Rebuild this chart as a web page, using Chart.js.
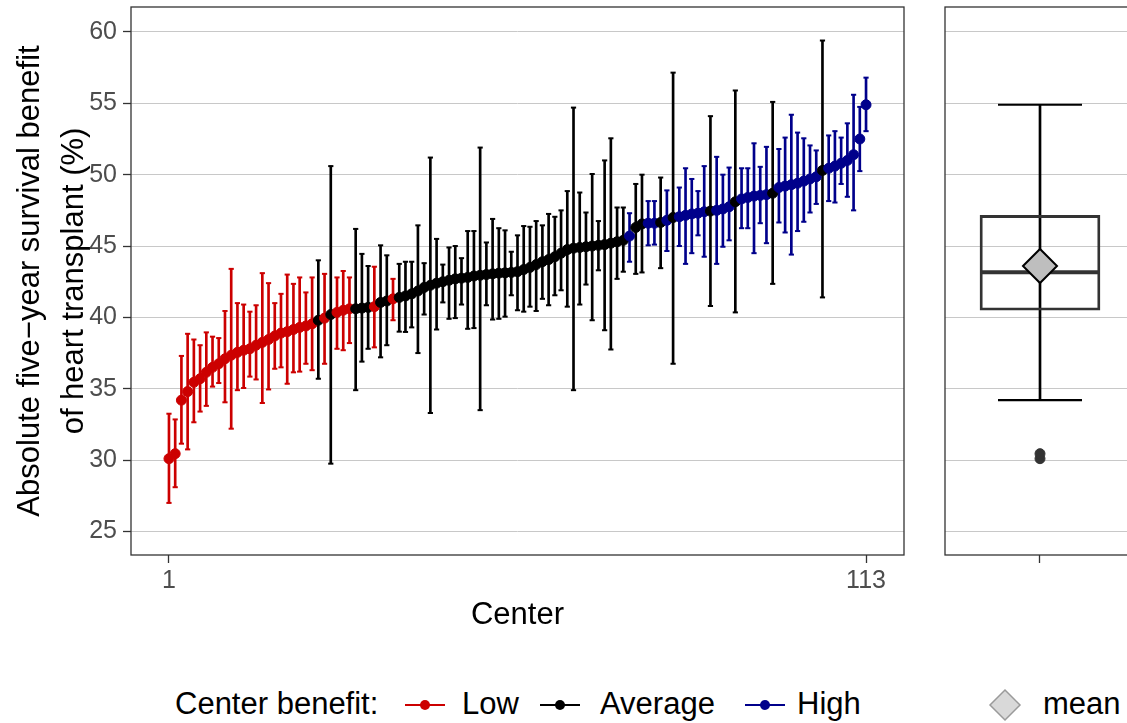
<!DOCTYPE html>
<html lang="en">
<head>
<meta charset="UTF-8">
<title>Center benefit</title>
<script src="https://cdn.jsdelivr.net/npm/chart.js"></script>
<style>
  html, body { margin: 0; padding: 0; background: #fff; overflow: hidden; width: 1127px; height: 723px; }
  body { position: relative; font-family: "Liberation Sans", Arial, sans-serif; }
  #main { position: absolute; left: 0; top: 0; }
  #side { position: absolute; left: 930px; top: 0; }
  .lg { position: absolute; top: 686px; font-size: 31px; line-height: 36px; color: #000; white-space: nowrap; }
  .key { position: absolute; top: 704px; width: 40px; height: 2px; }
  .key i { position: absolute; left: 15px; top: -4px; width: 10px; height: 10px; border-radius: 50%; background: inherit; }
</style>
</head>
<body>
<canvas id="main" width="910" height="640"></canvas>
<canvas id="side" width="300" height="640"></canvas>

<!-- legend -->
<div class="lg" style="left:175px">Center benefit:</div>
<div class="key" style="left:405px;background:#CC0000"><i></i></div>
<div class="lg" style="left:462px">Low</div>
<div class="key" style="left:540px;background:#000"><i></i></div>
<div class="lg" style="left:600px">Average</div>
<div class="key" style="left:745px;background:#00008B"><i></i></div>
<div class="lg" style="left:797px">High</div>
<svg style="position:absolute;left:988px;top:688px" width="34" height="34">
  <polygon points="17,2 32,17 17,32 2,17" fill="#D9D9D9" stroke="#9A9A9A" stroke-width="1.5"/>
</svg>
<div class="lg" style="left:1043px">mean</div>

<script>
// point estimate and 95% interval for each center (sorted)
var estimate = [
  30.1, 30.45, 34.2, 34.8, 35.45, 35.7, 36.15, 36.5, 36.75, 37.1,
  37.35, 37.55, 37.7, 37.8, 38.05, 38.25, 38.45, 38.7, 38.9, 39.0,
  39.15, 39.3, 39.4, 39.55, 39.8, 39.95, 40.2, 40.35, 40.5, 40.6,
  40.6, 40.65, 40.7, 40.75, 41.05, 41.15, 41.3, 41.4, 41.5, 41.65,
  41.85, 42.1, 42.25, 42.4, 42.5, 42.6, 42.7, 42.75, 42.8, 42.9,
  42.95, 43.0, 43.05, 43.1, 43.12, 43.15, 43.2, 43.35, 43.5, 43.7,
  43.9, 44.05, 44.25, 44.5, 44.75, 44.85, 44.9, 44.95, 45.0, 45.05,
  45.1, 45.2, 45.3, 45.4, 45.7, 46.3, 46.55, 46.6, 46.6, 46.65,
  46.8, 47.0, 47.05, 47.15, 47.25, 47.3, 47.4, 47.45, 47.5, 47.6,
  47.75, 48.1, 48.3, 48.4, 48.5, 48.55, 48.6, 48.7, 49.1, 49.2,
  49.3, 49.4, 49.55, 49.7, 49.85, 50.3, 50.45, 50.6, 50.8, 51.0,
  51.4, 52.5, 54.9
];
var lower = [
  27.0, 28.1, 31.15, 30.75, 32.65, 33.4, 33.8, 35.15, 35.4, 34.05,
  32.2, 34.9, 35.05, 35.85, 35.65, 34.0, 34.95, 36.4, 36.5, 35.35,
  36.15, 36.2, 36.75, 36.3, 35.7, 36.75, 29.75, 37.8, 37.7, 38.2,
  34.9, 36.9, 37.8, 37.9, 37.2, 38.05, 39.8, 39.0, 38.98, 39.3,
  37.5, 40.2, 33.3, 39.15, 41.05, 39.9, 39.95, 40.9, 39.2, 39.25,
  33.5, 40.85, 39.85, 39.9, 40.05, 41.55, 40.5, 40.4, 40.75, 40.45,
  41.3, 40.85, 41.55, 41.9, 40.75, 34.9, 40.9, 42.3, 39.8, 43.3,
  39.1, 37.75, 42.7, 43.2, 43.9, 43.05, 43.15, 45.05, 45.1, 43.45,
  44.65, 36.75, 45.0, 43.75, 44.5, 45.75, 44.25, 40.8, 43.75, 44.95,
  45.4, 40.35, 46.25, 46.25, 44.5, 46.6, 45.2, 42.35, 46.65, 45.95,
  44.4, 46.05, 46.7, 47.35, 47.95, 41.4, 48.15, 48.05, 49.35, 48.45,
  47.5, 50.25, 53.05
];
var upper = [
  33.25, 32.85, 37.3, 38.85, 38.45, 38.05, 38.95, 38.65, 38.55, 40.45,
  43.4, 41.0, 40.9, 40.4, 40.85, 43.1, 42.4, 41.0, 41.65, 43.0,
  42.35, 42.8, 41.75, 42.8, 44.0, 43.05, 50.6, 42.8, 43.25, 42.8,
  46.2, 44.45, 43.6, 43.55, 45.05, 44.35, 42.7, 43.75, 43.9, 43.9,
  46.45, 43.8, 51.2, 45.5, 43.7, 44.9, 45.0, 44.15, 46.05, 46.05,
  51.9, 45.25, 46.9, 46.25, 46.1, 44.6, 45.75, 46.4, 46.35, 46.75,
  46.45, 47.25, 47.05, 47.5, 48.85, 54.7, 48.75, 47.35, 50.05, 46.75,
  51.0, 52.55, 47.7, 47.7, 47.3, 49.35, 50.0, 48.15, 48.15, 49.8,
  48.9, 57.15, 49.1, 50.45, 49.7, 48.85, 50.6, 54.1, 51.25, 50.0,
  50.5, 55.9, 50.45, 50.45, 52.2, 50.55, 51.95, 55.1, 51.8, 52.6,
  54.2, 52.95, 52.55, 52.05, 51.7, 59.4, 52.75, 53.05, 52.6, 53.6,
  55.6, 54.75, 56.8
];
// L = Low, A = Average, H = High
var group = [
  'L','L','L','L','L','L','L','L','L','L',
  'L','L','L','L','L','L','L','L','L','L',
  'L','L','L','L','A','L','A','L','L','L',
  'A','A','A','L','A','A','L','A','A','A',
  'A','A','A','A','A','A','A','A','A','A',
  'A','A','A','A','A','A','A','A','A','A',
  'A','A','A','A','A','A','A','A','A','A',
  'A','A','A','A','H','A','A','H','H','A',
  'H','A','H','H','H','H','H','A','H','H',
  'H','A','H','H','H','H','H','A','H','H',
  'H','H','H','H','H','A','H','H','H','H',
  'H','H','H'
];
var centers = estimate.map(function (v, i) { return i + 1; });
var xTicks = [1, 113];
var yTicks = [25, 30, 35, 40, 45, 50, 55, 60];

// boxplot summary of the estimates
var boxWhisker = [34.2, 54.9];
var boxQuart = [40.5, 47.15];
var boxMedian = 43.17;
var boxMean = 43.6;
var boxOutliers = [30.1, 30.45];

var colorOf = { L: '#CC0000', A: '#000000', H: '#00008B' };
var cols = group.map(function (g) { return colorOf[g]; });
var FONT = '"Liberation Sans", Arial, sans-serif';
var yMin = 23.35, yMax = 61.75;

// border round the panel
var panelBorder = {
  id: 'panelBorder',
  afterDraw: function (chart) {
    var ctx = chart.ctx, a = chart.chartArea;
    ctx.save();
    ctx.strokeStyle = '#333333';
    ctx.lineWidth = 1.3;
    ctx.strokeRect(a.left, a.top, a.right - a.left, a.bottom - a.top);
    ctx.restore();
  }
};

// no extra padding from the tick labels
function noPad(s) { s.paddingTop = 0; s.paddingBottom = 0; s.paddingLeft = 0; s.paddingRight = 0; }

var capData = [], capCols = [];
centers.forEach(function (c, i) {
  capData.push({ x: c, y: lower[i] }, { x: c, y: upper[i] });
  capCols.push(cols[i], cols[i]);
});

new Chart(document.getElementById('main'), {
  type: 'scatter',
  data: {
    datasets: [
      {
        type: 'bar',
        data: centers.map(function (c, i) { return { x: c, y: [lower[i], upper[i]] }; }),
        backgroundColor: cols,
        borderWidth: 0,
        barThickness: 2,
        grouped: false,
        order: 3
      },
      {
        data: capData,
        pointStyle: 'line',
        pointRadius: 2.6,
        pointBorderWidth: 2,
        pointBorderColor: capCols,
        order: 2
      },
      {
        data: centers.map(function (c, i) { return { x: c, y: estimate[i] }; }),
        pointRadius: 5,
        pointBorderWidth: 1,
        pointBackgroundColor: cols,
        pointBorderColor: cols,
        order: 1
      }
    ]
  },
  options: {
    responsive: false,
    animation: false,
    events: [],
    layout: { autoPadding: false, padding: { top: 7, right: 6, left: 0, bottom: 0 } },
    plugins: { legend: { display: false }, tooltip: { enabled: false } },
    scales: {
      x: {
        type: 'linear', min: -5.1, max: 119.1, offset: false,
        afterBuildTicks: function (s) { s.ticks = xTicks.map(function (v) { return { value: v }; }); },
        afterFit: function (s) { s.height = 85; noPad(s); },
        grid: { offset: false, drawOnChartArea: false, tickLength: 8, tickColor: '#333333', tickWidth: 1.3 },
        border: { display: false },
        ticks: { color: '#4D4D4D', font: { size: 25, family: FONT }, padding: 3, maxRotation: 0 },
        title: { display: true, text: 'Center', color: '#000', font: { size: 31, family: FONT }, padding: { top: 0, bottom: 6 } }
      },
      y: {
        min: yMin, max: yMax,
        afterBuildTicks: function (s) { s.ticks = yTicks.map(function (v) { return { value: v }; }); },
        afterFit: function (s) { s.width = 131; noPad(s); },
        grid: { color: '#C8C8C8', lineWidth: 1, tickLength: 8, tickColor: '#333333', tickWidth: 1.3 },
        border: { display: false },
        ticks: { color: '#4D4D4D', font: { size: 25, family: FONT }, padding: 6 },
        title: {
          display: true,
          text: ['Absolute five\u2212year survival benefit', 'of heart transplant (%)'],
          color: '#000', font: { size: 31, family: FONT, lineHeight: 1.4 }, padding: { top: 9, bottom: 0 }
        }
      }
    }
  },
  plugins: [panelBorder]
});

new Chart(document.getElementById('side'), {
  type: 'scatter',
  data: {
    datasets: [
      { type: 'bar', data: [{ x: 1, y: boxWhisker }], backgroundColor: '#000', borderWidth: 0, barThickness: 2, grouped: false, order: 6 },
      { type: 'bar', data: [{ x: 1, y: boxQuart }], backgroundColor: 'rgba(0,0,0,0)', borderColor: '#333333', borderWidth: 2.2, borderSkipped: false, barThickness: 120, grouped: false, order: 5 },
      { data: boxWhisker.map(function (v) { return { x: 1, y: v }; }), pointStyle: 'line', pointRadius: 42, pointBorderWidth: 2.2, pointBorderColor: '#000', order: 4 },
      { data: [{ x: 1, y: boxMedian }], pointStyle: 'line', pointRadius: 59, pointBorderWidth: 4, pointBorderColor: '#333333', order: 3 },
      { data: boxOutliers.map(function (v) { return { x: 1, y: v }; }), pointRadius: 5, pointBackgroundColor: '#333333', pointBorderColor: '#333333', order: 2 },
      { data: [{ x: 1, y: boxMean }], pointStyle: 'rectRot', pointRadius: 17, pointBackgroundColor: '#BEBEBE', pointBorderColor: '#000', pointBorderWidth: 2, order: 1 }
    ]
  },
  options: {
    responsive: false,
    animation: false,
    events: [],
    layout: { autoPadding: false, padding: { top: 7, right: 95, left: 15, bottom: 0 } },
    plugins: { legend: { display: false }, tooltip: { enabled: false } },
    scales: {
      x: {
        type: 'linear', min: 0.4, max: 1.6, offset: false,
        afterBuildTicks: function (s) { s.ticks = [{ value: 1 }]; },
        afterFit: function (s) { s.height = 85; noPad(s); },
        grid: { offset: false, drawOnChartArea: false, tickLength: 8, tickColor: '#333333', tickWidth: 1.3 },
        border: { display: false },
        ticks: { callback: function () { return ''; } }
      },
      y: {
        min: yMin, max: yMax,
        afterBuildTicks: function (s) { s.ticks = yTicks.map(function (v) { return { value: v }; }); },
        afterFit: function (s) { s.width = 0; noPad(s); },
        grid: { color: '#C8C8C8', lineWidth: 1, drawTicks: false },
        border: { display: false },
        ticks: { display: false }
      }
    }
  },
  plugins: [panelBorder]
});
</script>
</body>
</html>
